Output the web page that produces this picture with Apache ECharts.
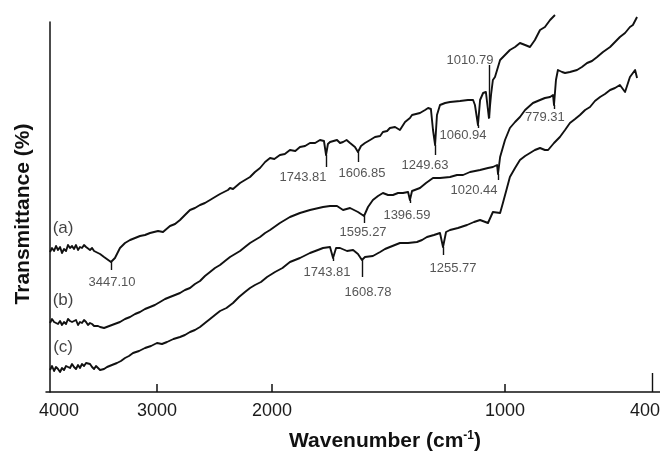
<!DOCTYPE html>
<html><head><meta charset="utf-8">
<script src="https://cdn.jsdelivr.net/npm/echarts@6/dist/echarts.min.js"></script>
<style>html,body{margin:0;padding:0;background:#fff}#c{width:660px;height:451px}</style>
</head><body><div id="c"></div>
<script>
// ---- data (wavenumber cm-1, transmittance in arbitrary units) ----
const wnA = [4000,3981,3962,3944,3925,3906,3888,3869,3850,3832,3813,3794,3776,3757,3738,3720,3701,3682,3663,3645,3626,3607,3588,3570,3551,3532,3514,3495,3430,3393,3346,3299,3252,3205,3159,3112,3065,2991,2948,2887,2843,2800,2757,2713,2670,2626,2583,2539,2496,2452,2383,2365,2339,2278,2235,2191,2148,2104,2060,2017,1990,1966,1945,1923,1900,1880,1858,1837,1815,1794,1777,1768,1760,1751,1736,1721,1708,1695,1680,1665,1644,1631,1618,1601,1579,1558,1536,1524,1506,1494,1472,1451,1429,1408,1399,1365,1343,1330,1318,1309,1300,1292,1279,1257,1236,1193,1159,1137,1129,1116,1107,1094,1082,1069,1060,1052,1043,1021,1000,980,959,939,918,898,890,878,857,837,816,796];
const trA = [140,144,141,146,142,145,139,143,141,147,144,146,143,147,142,145,144,147,145,143,142,144,141,140,139,138,136,135,130,134,144,149,152,154,156,157,159,161,160,166,168,172,177,182,184,187,189,192,195,198,202,204,203,209,212,215,220,224,230,234,233,237,238,242,241,245,246,249,249,252,251,237,248,250,251,252,249,250,252,249,245,240,246,249,252,255,256,260,261,264,265,262,270,274,277,279,282,284,283,262,247,277,287,289,290,291,292,292,287,267,292,299,300,274,297,312,315,332,337,342,345,349,347,345,344,352,362,365,372,377];

const wnB = [4000,3981,3962,3944,3925,3906,3888,3869,3850,3832,3813,3794,3776,3757,3738,3720,3701,3682,3663,3645,3626,3607,3588,3570,3551,3532,3514,3495,3421,3346,3299,3252,3205,3159,3112,3065,3020,2974,2930,2887,2843,2800,2757,2713,2670,2626,2583,2539,2496,2452,2409,2365,2348,2278,2235,2191,2148,2104,2060,2017,1966,1923,1880,1837,1781,1751,1721,1695,1665,1631,1605,1588,1567,1545,1524,1502,1481,1459,1438,1416,1408,1399,1365,1339,1309,1279,1236,1206,1180,1150,1107,1073,1052,1034,1030,1021,1000,980,959,939,918,886,857,837,816,804,800,792,784,767,755,735,706,686,665,645,624,600,571,551,531,510,490,478,461];
const trB = [69,73,70,72,68,71,67,70,68,73,71,70,68,72,67,70,69,72,70,67,69,68,66,67,66,65,66,64,67,70,73,75,78,80,83,85,87,90,93,95,97,99,102,104,108,111,116,120,124,127,131,135,133,141,145,149,152,155,159,162,169,175,179,182,185,186,186,182,184,180,176,185,192,196,199,197,197,199,199,200,192,201,204,209,214,214,215,217,217,220,222,224,225,227,218,235,252,264,270,275,282,289,292,294,295,297,287,312,322,320,319,320,322,325,329,331,335,340,345,350,355,359,365,367,375];

const wnC = [4000,3981,3962,3944,3925,3906,3888,3869,3850,3832,3813,3794,3776,3757,3738,3720,3701,3682,3663,3645,3626,3607,3588,3570,3551,3532,3514,3495,3467,3421,3374,3337,3299,3262,3224,3168,3112,3056,3000,2957,2913,2857,2800,2757,2713,2670,2626,2583,2539,2496,2452,2396,2339,2287,2235,2191,2148,2096,2043,1987,1955,1923,1880,1837,1803,1781,1751,1738,1725,1708,1678,1652,1631,1614,1601,1567,1536,1515,1494,1451,1416,1378,1356,1335,1305,1279,1266,1253,1236,1202,1163,1133,1107,1073,1052,1021,1009,992,980,959,939,918,898,878,857,837,824,800,776,755,735,714,694,673,653,633,612,592,571,551,531,510,490,469,461];
const trC = [22,26,21,25,23,20,24,22,26,27,24,28,25,23,27,24,28,26,29,27,28,25,23,26,24,22,24,23,25,27,29,31,34,36,39,41,44,46,49,48,50,53,55,57,60,62,65,69,73,77,81,84,89,95,100,104,107,110,115,120,124,130,134,139,142,144,145,134,144,144,141,142,138,132,135,136,140,143,145,149,149,150,152,155,157,159,145,160,162,164,167,170,172,169,180,179,189,204,215,224,232,236,239,242,244,242,242,249,255,262,269,273,277,282,285,291,295,298,302,304,307,300,315,322,314];

// curve names
const curveNames = ['(a)','(b)','(c)'];
const curveNameWn = [3878,3878,3878];
const curveNameTr = [164,92,45];

// peak annotations
const peakText  = ['3447.10','1743.81','1606.85','1249.63','1060.94','1010.79','1595.27','1396.59','1020.44','779.31','1743.81','1608.78','1255.77'];
const peakWn    = [3430,1768,1631,1300,1116,1069,1605,1408,1030,800,1738,1614,1266];
const markFrom  = [130,237,240,247,267,274,176,192,218,287,134,132,145];
const markTo    = [122,225,230,237,264,327,169,189,212,283,131,115,137];
const labelWn   = [3421,1867,1614,1343,1180,1150,1609,1421,1133,837,1764,1588,1223];
const labelTr   = [110,215,219,227,257,332,160,177,202,275,120,100,124];

// axis (split scale: 4000-2000 compressed)
const axisWn  = [4000,3000,2000,1000,400];
const axisPos = [0,107,222,455,602];
const tickWn  = [3000,2000,1000];
const tickLabels = [4000,3000,2000,1000,400];
const xRange = [-4,610];
const yRange = [0,370];

function toPos(w){
  let i = 0;
  while (i < axisWn.length-2 && w < axisWn[i+1]) i++;
  const w0=axisWn[i], w1=axisWn[i+1], p0=axisPos[i], p1=axisPos[i+1];
  return p0 + (w0 - w)/(w0 - w1)*(p1 - p0);
}
function fromPos(p){
  let i = 0;
  while (i < axisPos.length-2 && p > axisPos[i+1]) i++;
  const w0=axisWn[i], w1=axisWn[i+1], p0=axisPos[i], p1=axisPos[i+1];
  return w0 - (p - p0)/(p1 - p0)*(w0 - w1);
}
const pts = (w,t) => w.map((x,i)=>[toPos(x), t[i]]);

const FONT = 'Liberation Sans, Arial, Helvetica, sans-serif';
const lineS = (name,w,t) => ({
  name, type:'line', data: pts(w,t), showSymbol:false, clip:false,
  lineStyle:{color:'#111', width:1.9, join:'round'}, silent:true
});

const markData = peakText.map((_,i)=>[
  {coord:[toPos(peakWn[i]), markFrom[i]]},
  {coord:[toPos(peakWn[i]), markTo[i]]}
]);
markData.push([{coord:[toPos(400), 0]},{coord:[toPos(400), 19]}]);

const chart = echarts.init(document.getElementById('c'), null, {renderer:'canvas'});
chart.setOption({
  animation:false,
  backgroundColor:'#fff',
  grid:{left:46, right:0, top:22, bottom:59, containLabel:false, outerBoundsMode:'none'},
  xAxis:{
    type:'value', min:xRange[0], max:xRange[1],
    axisLine:{show:true, lineStyle:{color:'#111', width:1.5}},
    axisTick:{show:true, inside:true, length:8, customValues: tickWn.map(toPos), lineStyle:{color:'#111', width:1.5}},
    axisLabel:{
      customValues: tickLabels.map(toPos), margin:10,
      fontSize:18, color:'#1a1a1a', fontFamily:FONT,
      formatter:(v)=>{
        const w = Math.round(fromPos(v));
        if (w===4000) return '{first|4000}';
        if (w===400) return '{last|400}';
        return String(w);
      },
      rich:{
        first:{fontSize:18, color:'#1a1a1a', fontFamily:FONT, padding:[0,0,0,18]},
        last:{fontSize:18, color:'#1a1a1a', fontFamily:FONT, padding:[0,14,0,0]}
      }
    },
    splitLine:{show:false},
    name:'Wavenumber (cm{sup|-1})',
    nameLocation:'middle', nameGap:38,
    nameTextStyle:{fontSize:21, fontWeight:'bold', color:'#111', fontFamily:FONT, padding:[0,0,0,64],
      rich:{sup:{fontSize:12, fontWeight:'bold', color:'#111', fontFamily:FONT, verticalAlign:'top', padding:[0,0,10,0]}}}
  },
  yAxis:{
    type:'value', min:yRange[0], max:yRange[1],
    axisLine:{show:true, lineStyle:{color:'#111', width:1.5}},
    axisTick:{show:false}, axisLabel:{show:false}, splitLine:{show:false},
    name:'Transmittance (%)', nameLocation:'middle', nameGap:12,
    nameTextStyle:{fontSize:21, fontWeight:'bold', color:'#111', fontFamily:FONT, padding:[0,14,0,0]}
  },
  series:[
    lineS('a', wnA, trA),
    lineS('b', wnB, trB),
    lineS('c', wnC, trC),
    {
      type:'scatter', symbolSize:0, silent:true, clip:false,
      data: peakText.map((s,i)=>[toPos(labelWn[i]), labelTr[i], s]),
      label:{show:true, position:'inside', formatter:p=>p.data[2], fontSize:13, color:'#2a2a2a', fontFamily:FONT},
      markLine:{silent:true, symbol:['none','none'], label:{show:false},
        lineStyle:{color:'#111', width:1.4, type:'solid'}, data: markData}
    },
    {
      type:'scatter', symbolSize:0, silent:true, clip:false,
      data: curveNames.map((s,i)=>[toPos(curveNameWn[i]), curveNameTr[i], s]),
      label:{show:true, position:'inside', formatter:p=>p.data[2], fontSize:17, color:'#111', fontFamily:FONT}
    }
  ]
});
</script></body></html>
